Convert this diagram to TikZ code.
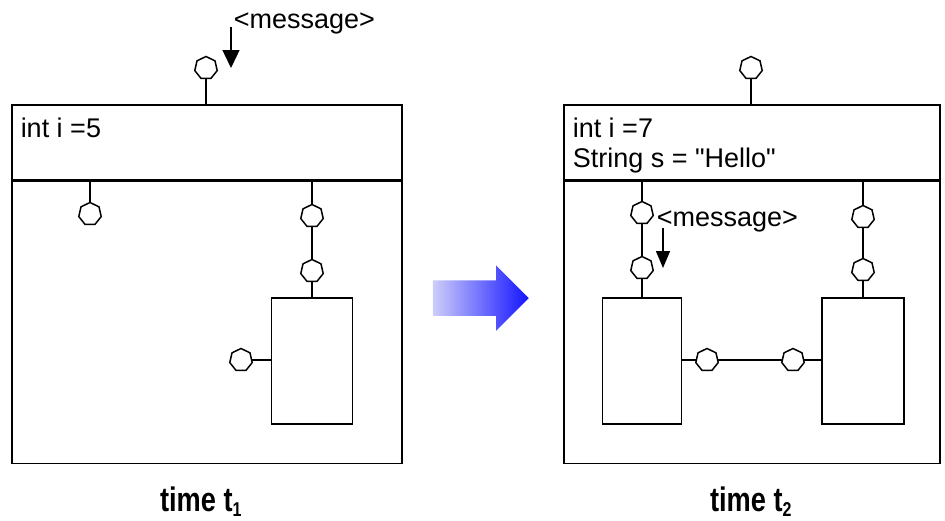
\documentclass[tikz,border=0pt]{standalone}
\usepackage{fontspec}
\setmainfont{Liberation Sans}
\usepackage{graphicx}
\usepackage{tikz}
\usetikzlibrary{positioning, shapes.geometric, shapes.arrows, arrows.meta, calc}
\definecolor{arrowlight}{RGB}{205, 205, 250}
\definecolor{arrowdark}{RGB}{20, 20, 255}

\begin{document}
\begin{tikzpicture}[x=1pt, y=-1pt, line width=1.5pt, every node/.style={font=\fontsize{27}{32}\selectfont, inner sep=0pt},
    frame/.style={draw, rectangle, line width=1.5pt, anchor=north west},
    port/.style={draw, fill=white, regular polygon, regular polygon sides=7, minimum size=23pt, line width=1.5pt},
    inbox/.style={draw, rectangle, minimum width=81pt, minimum height=126pt},
    msgarrow/.style={-{Triangle[length=18pt, width=17pt]}, line width=1.4pt},
    timelabel/.style={anchor=base, font=\fontsize{34}{38}\selectfont\bfseries}]
    \useasboundingbox (0,0) rectangle (945,520);

    % Left object at time t1
    \node [frame, minimum width=390pt, minimum height=75pt] (headA) at (11,104) {};
    \node [frame, minimum width=390pt, minimum height=282pt] (bodyA) at (headA.south west) {};
    \node [anchor=base west] (varA) at (20,137) {int i =5};
    \node [inbox] (rectA) at (312,361) {};
    \node [port] (topA) at (206,68) {};
    \node [port] (pA1) at (90,214) {};
    \node [port] (pA2) at (312,216) {};
    \node [port] (pA3) at (312,271) {};
    \node [port] (pA4) at (241,360) {};
    \draw (topA) -- (topA |- headA.north);
    \draw (pA1) -- (pA1 |- headA.south);
    \draw (pA2 |- headA.south) -- (pA2) -- (pA3) -- (pA3 |- rectA.north);
    \draw (pA4) -- (pA4 -| rectA.west);

    % Incoming message
    \node [anchor=base west] (msgA) at (233,28) {<message>};
    \coordinate (mA1) at (231,27);
    \coordinate (mA2) at (231,68);
    \draw [msgarrow] (mA1) -- (mA2);

    % Transition arrow
    \node [single arrow, anchor=tail, inner xsep=0pt, inner ysep=17pt, single arrow head extend=15pt, single arrow head indent=0pt, minimum height=96pt, left color=arrowlight, right color=arrowdark, draw=none] (shift) at (432,298) {};

    % Right object at time t2
    \node [frame, minimum width=376pt, minimum height=75pt] (headB) at (563,104) {};
    \node [frame, minimum width=376pt, minimum height=282pt] (bodyB) at (headB.south west) {};
    \node [anchor=base west] (varB1) at (572,137) {int i =7};
    \node [anchor=base west] (varB2) at (572,167) {String s = \textquotedbl Hello\textquotedbl};
    \node [inbox, minimum width=79pt] (rectB1) at (642,361) {};
    \node [inbox, minimum width=82pt] (rectB2) at (863,361) {};
    \node [port] (topB) at (751,68) {};
    \node [port] (pB1) at (642,213) {};
    \node [port] (pB2) at (642,268) {};
    \node [port] (pB3) at (863,217) {};
    \node [port] (pB4) at (863,270) {};
    \node [port] (pB5) at (707,360) {};
    \node [port] (pB6) at (793,360) {};
    \draw (topB) -- (topB |- headB.north);
    \draw (pB1 |- headB.south) -- (pB1) -- (pB2) -- (pB2 |- rectB1.north);
    \draw (pB3 |- headB.south) -- (pB3) -- (pB4) -- (pB4 |- rectB2.north);
    \draw (pB5 -| rectB1.east) -- (pB5) -- (pB6) -- (pB6 -| rectB2.west);

    % Forwarded message
    \node [anchor=base west] (msgB) at (656,226) {<message>};
    \coordinate (mB1) at (663,228);
    \coordinate (mB2) at (663,268);
    \draw [msgarrow, -{Triangle[length=17pt, width=14pt]}] (mB1) -- (mB2);

    % Time labels
    \node [timelabel] (timeA) at (201,511) {\scalebox{0.8}[1]{time t\textsubscript{\fontsize{20}{20}\selectfont 1}}};
    \node [timelabel] (timeB) at (751,511) {\scalebox{0.8}[1]{time t\textsubscript{\fontsize{20}{20}\selectfont 2}}};
\end{tikzpicture}
\end{document}
